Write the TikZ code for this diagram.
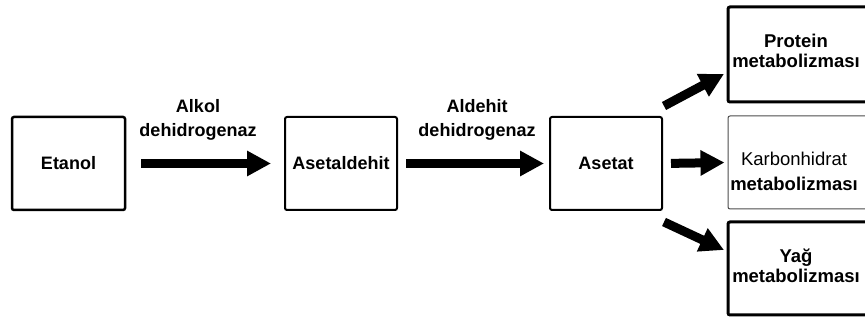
\documentclass[tikz,border=0pt]{standalone}
\usepackage{fontspec}
\setmainfont{Liberation Sans}
\usetikzlibrary{arrows.meta}
\begin{document}
\begin{tikzpicture}[x=1pt,y=-1pt,
  box/.style={draw,line width=2.5pt,rounded corners=2pt,inner sep=0pt},
  lbl/.style={font=\fontsize{18}{24}\selectfont\bfseries,align=center},
  bigarrow/.style={line width=9pt,-{Triangle[length=24pt,width=24pt]}}]
\useasboundingbox (0,0) rectangle (865,320);
\begin{scope}
\clip (0,0) rectangle (865,320);
\node[box,minimum width=113pt,minimum height=93pt] (etanol) at (68.5,163.5) {};
\node[lbl] at (etanol.center) {Etanol};
\node[box,line width=2pt,minimum width=112pt,minimum height=93pt] (asetaldehit) at (341,163.5) {};
\node[lbl] at (asetaldehit.center) {Asetaldehit};
\node[box,line width=2pt,minimum width=112pt,minimum height=93pt] (asetat) at (606,163.5) {};
\node[lbl] at (asetat.center) {Asetat};
\node[box,line width=3pt,minimum width=142pt,minimum height=95pt] (protein) at (799,54.5) {};
\node[box,line width=1pt,draw=black!70,minimum width=142pt,minimum height=93pt] (karbon) at (799,162.5) {};
\node[box,line width=3pt,minimum width=142pt,minimum height=93pt] (yag) at (799,268.5) {};
\node[lbl,font=\fontsize{18.5}{20}\selectfont\bfseries] at (796,51) {Protein\\metabolizması};
\node[lbl,font=\fontsize{18.5}{25}\selectfont] at (794,171) {Karbonhidrat\\\bfseries metabolizması};
\node[lbl,font=\fontsize{18.5}{20}\selectfont\bfseries] at (796,266) {Yağ\\metabolizması};
\end{scope}
\node[lbl] (l1) at (198,120) {Alkol\\dehidrogenaz};
\node[lbl] (l2) at (477,120) {Aldehit\\dehidrogenaz};
\draw[bigarrow,shorten <=15pt,shorten >=13pt] (etanol.east) -- (asetaldehit.west);
\draw[bigarrow,shorten <=8pt,shorten >=5pt] (asetaldehit.east) -- (asetat.west);
\draw[bigarrow,shorten <=8pt,shorten >=3pt] (asetat.east) -- (karbon.west);
\coordinate (upend) at (724,74);
\coordinate (downend) at (724,250);
\draw[bigarrow] ([shift={(1pt,10pt)}]asetat.north east) -- (upend);
\draw[bigarrow] ([shift={(1pt,-11pt)}]asetat.south east) -- (downend);
\end{tikzpicture}
\end{document}
